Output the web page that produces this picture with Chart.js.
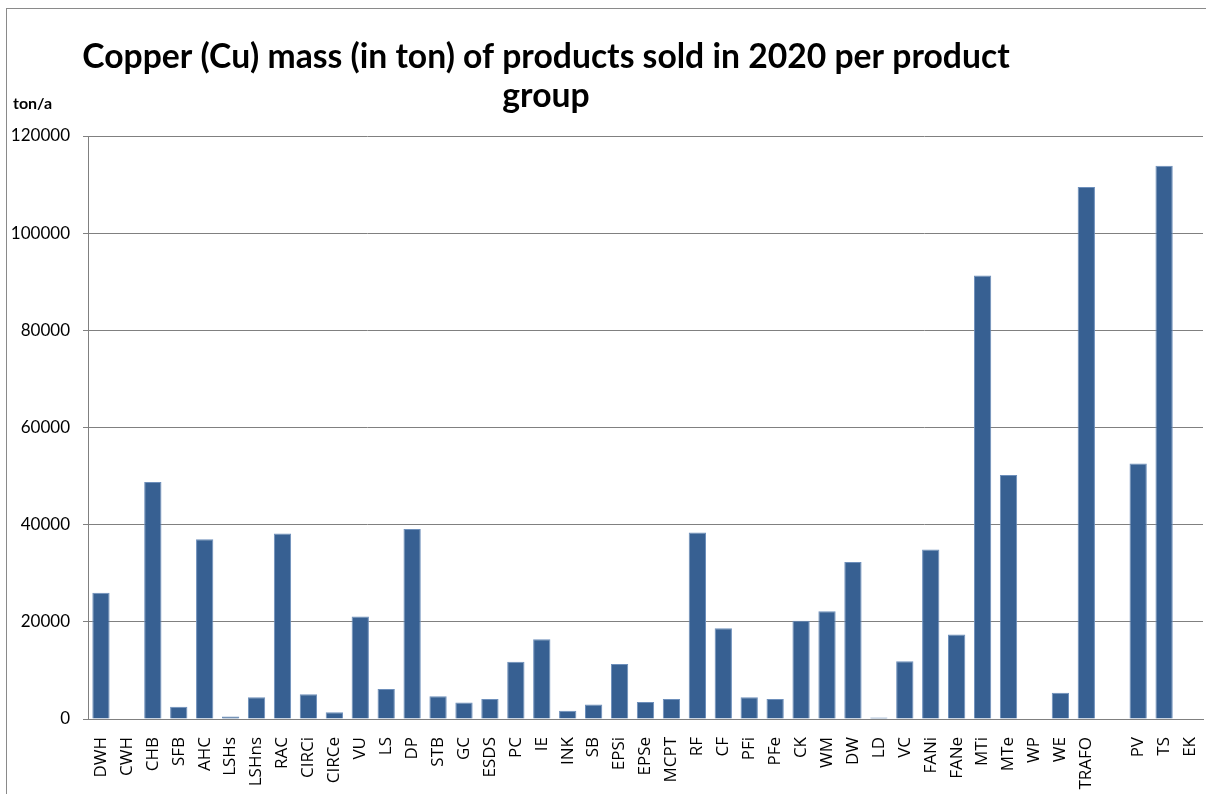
<!DOCTYPE html>
<html>
<head>
<meta charset="utf-8">
<script src="https://cdn.jsdelivr.net/npm/chart.js@4.4.1/dist/chart.umd.min.js"></script>
<style>
  html, body { margin: 0; padding: 0; background: #ffffff; overflow: hidden; }
  #wrap { position: relative; width: 1206px; height: 794px; }
</style>
</head>
<body>
<div id="wrap"><canvas id="c" width="1206" height="794"></canvas></div>
<script>
// ---- Data ----
const categories = ['DWH','CWH','CHB','SFB','AHC','LSHs','LSHns','RAC','CIRCi','CIRCe','VU','LS','DP','STB','GC','ESDS','PC','IE','INK','SB','EPSi','EPSe','MCPT','RF','CF','PFi','PFe','CK','WM','DW','LD','VC','FANi','FANe','MTi','MTe','WP','WE','TRAFO','','PV','TS','EK'];
const copperTons = [26000,0,48800,2500,37000,500,4500,38200,5100,1400,21100,6200,39100,4700,3400,4100,11800,16400,1700,3000,11300,3500,4100,38400,18700,4500,4100,20200,22200,32300,300,11900,34900,17400,91300,50200,0,5400,109500,null,52600,113900,0];
const yTickValues = [0,20000,40000,60000,80000,100000,120000];
const titleLines = ['Copper (Cu) mass (in ton) of products sold in 2020 per product', 'group'];
const unitLabel = 'ton/a';

const decor = {
  id: 'decor',
  beforeDraw(chart) {
    const ctx = chart.ctx;
    ctx.save();
    ctx.strokeStyle = '#8a8a8a';
    ctx.lineWidth = 1;
    ctx.strokeRect(6.5, 8.5, 1400, 1000);
    ctx.restore();
  },
  afterDraw(chart) {
    const ctx = chart.ctx;
    ctx.save();
    ctx.fillStyle = '#000000';
    ctx.textAlign = 'center';
    ctx.textBaseline = 'alphabetic';
    let size = 30;
    ctx.font = 'bold ' + size + 'px Lato';
    const w = ctx.measureText(titleLines[0]).width;
    size = size * 928 / w;
    ctx.font = 'bold ' + size.toFixed(2) + 'px Lato';
    ctx.fillText(titleLines[0], 546, 68);
    ctx.fillText(titleLines[1], 546, 107);
    ctx.textAlign = 'left';
    ctx.font = 'bold 16px Lato';
    ctx.fillText(unitLabel, 13, 109);
    ctx.restore();
  }
};

new Chart(document.getElementById('c'), {
  type: 'bar',
  data: {
    labels: categories,
    datasets: [{
      data: copperTons,
      backgroundColor: '#376092',
      borderColor: '#6d8fbb',
      borderWidth: 1,
      barPercentage: 0.667,
      categoryPercentage: 1.0
    }]
  },
  options: {
    responsive: false,
    animation: false,
    layout: { padding: { left: 0, top: 136, right: 3, bottom: 0 } },
    plugins: {
      legend: { display: false },
      title: { display: false },
      tooltip: { enabled: false }
    },
    scales: {
      x: {
        grid: { display: false },
        border: { display: true, color: '#808080', width: 1 },
        ticks: {
          color: '#000000',
          font: { family: 'Open Sans', size: 17 },
          maxRotation: 90,
          minRotation: 90,
          autoSkip: false,
          padding: 10
        },
        afterFit(s) { s.height = 75; s.paddingLeft = 0; s.paddingRight = 0; }
      },
      y: {
        min: 0,
        max: 120000,
        afterBuildTicks(s) { s.ticks = yTickValues.map(v => ({ value: v })); },
        grid: { color: '#808080', lineWidth: 1, drawTicks: true, tickLength: 5 },
        border: { display: true, color: '#808080', width: 1 },
        ticks: {
          color: '#000000',
          font: { family: 'Lato', size: 17 },
          padding: 13,
          callback: (v) => String(v)
        },
        afterFit(s) { s.width = 88; }
      }
    }
  },
  plugins: [decor]
});
</script>
</body>
</html>
